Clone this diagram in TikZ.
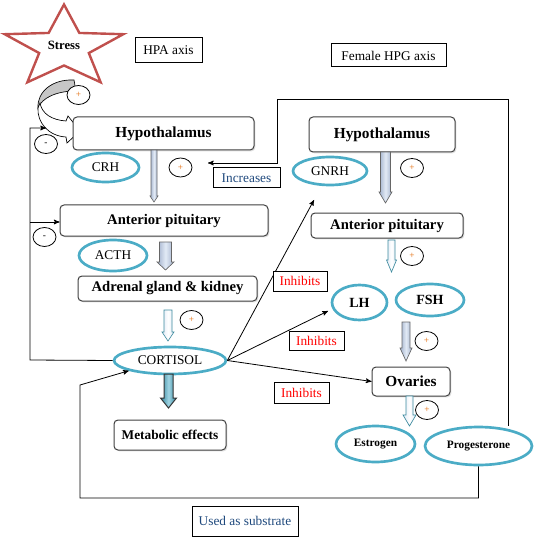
\documentclass[tikz,border=0pt]{standalone}
\usepackage{fontspec}
\setmainfont{Liberation Serif}
\usepackage{xcolor}
\usetikzlibrary{
    arrows,
    shapes,
    shadows,
    calc,
}

\definecolor{accentblue}{RGB}{75,172,198}
\definecolor{starred}{RGB}{192,80,77}
\definecolor{navytext}{RGB}{31,73,125}
\definecolor{arrowlight}{RGB}{226,234,245}
\definecolor{arrowmid}{RGB}{160,176,204}
\definecolor{tealdark}{RGB}{49,133,156}
\definecolor{teallight}{RGB}{160,212,226}
\definecolor{signorange}{RGB}{228,108,10}

% block arrow pointing down: style, x, top, head start, tip, shaft half, head half
\newcommand{\fatarrow}[7]{%
    \draw[#1] ({#2-#6},#3) -- ({#2+#6},#3) -- ({#2+#6},#4) -- ({#2+#7},#4)
        -- (#2,#5) -- ({#2-#7},#4) -- ({#2-#6},#4) -- cycle;}

\begin{document}
\begin{tikzpicture}[x=0.75pt,y=-0.75pt,>=stealth',auto]

    \tikzstyle{commonNode}=[align=center, inner sep=0pt, text=black]
    \tikzstyle{organBox}=[commonNode, rectangle, rounded corners=3pt, draw=black!75, line width=0.75pt, fill=white, drop shadow={shadow xshift=1pt, shadow yshift=-1pt, opacity=0.25}, font=\fontsize{11}{13}\selectfont\bfseries]
    \tikzstyle{bigOrgan}=[organBox, font=\fontsize{11.5}{13}\selectfont\bfseries]
    \tikzstyle{hormone}=[commonNode, ellipse, draw=accentblue, line width=2pt, fill=white, font=\fontsize{10}{12}\selectfont]
    \tikzstyle{boldHormone}=[hormone, font=\fontsize{10.5}{12}\selectfont\bfseries]
    \tikzstyle{smallHormone}=[hormone, font=\fontsize{8.5}{10}\selectfont\bfseries]
    \tikzstyle{tagBox}=[commonNode, rectangle, draw=black, line width=0.75pt, fill=white, font=\fontsize{10}{12}\selectfont]
    \tikzstyle{signBall}=[commonNode, ellipse, draw=black, line width=0.6pt, fill=white, minimum width=23*0.75pt, minimum height=19*0.75pt, font=\fontsize{7}{8}\selectfont]
    \tikzstyle{plusBall}=[signBall, text=signorange]
    \tikzstyle{link}=[->, line width=0.6pt]
    \tikzstyle{grayArrow}=[line width=0.5pt, draw=black!60, left color=arrowmid, right color=arrowmid, middle color=arrowlight]
    \tikzstyle{paleArrow}=[line width=0.5pt, draw=accentblue!80!black, left color=arrowlight, right color=arrowlight, middle color=white]
    \tikzstyle{tealArrow}=[line width=0.75pt, draw=black!80, left color=tealdark, right color=tealdark, middle color=teallight]
    \tikzstyle{starLine}=[draw=starred, line width=1.8pt, fill=white]

    \useasboundingbox (0,0) rectangle (536,538);

    \begin{scope}
        \def\unitpx{0.75pt}

        % Stress
        \draw[starLine] (64,4.5) \foreach \ang/\rad in {126/18,162/43,198/18,234/43,270/18,306/43,342/18,18/43,54/18} { -- ({64+1.45*\rad*cos(\ang)},{47.5-\rad*sin(\ang)}) } -- cycle;
        \node at (64,45) [commonNode, font=\fontsize{9.5}{11}\selectfont\bfseries] (stress) {Stress};

        % Titles
        \node at (168.5,50.5) [tagBox, minimum width=67*\unitpx, minimum height=25*\unitpx] (hpaTitle) {HPA axis};
        \node at (388.5,55.5) [tagBox, minimum width=115*\unitpx, minimum height=23*\unitpx] (hpgTitle) {Female HPG axis};

        % Curved arrow from stress
        \draw[line width=0.5pt, fill=gray!45] (74,80) .. controls (52,79) and (37,92) .. (38,108) .. controls (42,98) and (56,91) .. (76,91) -- cycle;
        \draw[line width=0.5pt, fill=white] (40,103) .. controls (42,114) and (52,120) .. (66,121) -- (68,116) -- (80,131) -- (67,143) -- (66,137) .. controls (48,136) and (37,122) .. (38,108) -- cycle;

        % HPA axis
        \node at (163.5,133.5) [bigOrgan, minimum width=181*\unitpx, minimum height=33*\unitpx] (hypL) {Hypothalamus};
        \node at (105.5,167.5) [hormone, minimum width=67*\unitpx, minimum height=29*\unitpx] (crh) {CRH};
        \node at (164,220.5) [organBox, minimum width=208*\unitpx, minimum height=31*\unitpx] (apL) {Anterior pituitary};
        \node at (113,255.5) [hormone, minimum width=68*\unitpx, minimum height=31*\unitpx] (acth) {ACTH};
        \node at (167.5,288.5) [organBox, minimum width=179*\unitpx, minimum height=25*\unitpx] (adrenal) {Adrenal gland \& kidney};
        \node at (170,360.5) [hormone, minimum width=112*\unitpx, minimum height=27*\unitpx] (cortisol) {CORTISOL};
        \node at (170,435) [organBox, font=\fontsize{10}{12}\selectfont\bfseries, minimum width=112*\unitpx, minimum height=30*\unitpx] (metabolic) {Metabolic effects};

        % Female HPG axis
        \node at (382,134.5) [bigOrgan, minimum width=146*\unitpx, minimum height=35*\unitpx] (hypR) {Hypothalamus};
        \node at (330,171) [hormone, minimum width=74*\unitpx, minimum height=28*\unitpx] (gnrh) {GNRH};
        \node at (387,225.5) [organBox, minimum width=152*\unitpx, minimum height=25*\unitpx] (apR) {Anterior pituitary};
        \node at (359.5,302.5) [boldHormone, minimum width=55*\unitpx, minimum height=35*\unitpx] (lh) {LH};
        \node at (430,300) [boldHormone, minimum width=68*\unitpx, minimum height=32*\unitpx] (fsh) {FSH};
        \node at (411,381.5) [bigOrgan, minimum width=78*\unitpx, minimum height=29*\unitpx] (ovaries) {Ovaries};
        \node at (375.5,444) [smallHormone, minimum width=79*\unitpx, minimum height=36*\unitpx] (estrogen) {Estrogen};
        \node at (478.5,446) [smallHormone, minimum width=107*\unitpx, minimum height=38*\unitpx] (progesterone) {Progesterone};

        % Block arrows
        \fatarrow{grayArrow}{154}{150}{196}{202}{3}{4}
        \fatarrow{grayArrow}{165.5}{242}{262}{270}{6}{8.5}
        \fatarrow{paleArrow}{168}{310}{332}{341}{4}{6}
        \fatarrow{tealArrow}{168.5}{374}{398}{408}{4.5}{8}
        \fatarrow{grayArrow}{385.5}{152}{192}{203}{5}{6.5}
        \fatarrow{paleArrow}{391.5}{240}{260}{272}{3.5}{5}
        \fatarrow{grayArrow}{406}{322}{348}{361}{4}{6}
        \fatarrow{paleArrow}{409.5}{396}{415}{426}{3.5}{6.5}

        % Connector ends
        \coordinate (fbLeft) at (30,360);
        \coordinate (fbTop) at (30,128);
        \coordinate (fbEnd) at (46,128);
        \coordinate (fbMid) at (30,222);
        \coordinate (incTop) at (508,99);
        \coordinate (incLeft) at (277,99);
        \coordinate (incEnd) at (208,163);
        \coordinate (subLeft) at (80,498);
        \coordinate (subUp) at (80,385);
        \coordinate (toApR) at (314,200);
        \coordinate (toLh) at (328,311);

        % Connectors
        \draw[link] (cortisol.west) -- (fbLeft) -- (fbTop) -- (fbEnd);
        \draw[link] (fbMid) -- (fbMid -| apL.west);
        \draw[link] (progesterone.north -| incTop) -- (incTop) -- (incLeft) -- (incLeft |- incEnd) -- (incEnd);
        \draw[link] (progesterone.south) |- (subLeft) -- (subUp) -- (cortisol.194);
        \draw[link] (cortisol.east) -- (toApR);
        \draw[link] (cortisol.east) -- (toLh);
        \draw[link] (cortisol.east) -- (ovaries.west);

        % Labels on connectors
        \node at (246.5,178) [tagBox, text=navytext, minimum width=67*\unitpx, minimum height=20*\unitpx] (increases) {Increases};
        \node at (300,281) [tagBox, text=red, minimum width=54*\unitpx, minimum height=20*\unitpx] (inhibitsAp) {Inhibits};
        \node at (316.5,340.5) [tagBox, text=red, minimum width=55*\unitpx, minimum height=19*\unitpx] (inhibitsLh) {Inhibits};
        \node at (301.5,392.5) [tagBox, text=red, minimum width=55*\unitpx, minimum height=21*\unitpx] (inhibitsOv) {Inhibits};
        \node at (245,521) [tagBox, text=navytext, minimum width=106*\unitpx, minimum height=30*\unitpx] (substrate) {Used as substrate};

        % Signs
        \node at (78.5,95) [plusBall] (plusStress) {+};
        \node at (46,144) [signBall] (minusHyp) {-};
        \node at (44.5,237) [signBall] (minusAp) {-};
        \node at (180.5,167.5) [plusBall] (plusCrh) {+};
        \node at (191.5,320) [plusBall] (plusAdrenal) {+};
        \node at (412,168) [plusBall] (plusGnrh) {+};
        \node at (412,256) [plusBall] (plusApR) {+};
        \node at (426.5,341) [plusBall] (plusFsh) {+};
        \node at (427,410) [plusBall] (plusOvaries) {+};
    \end{scope}
\end{tikzpicture}
\end{document}
